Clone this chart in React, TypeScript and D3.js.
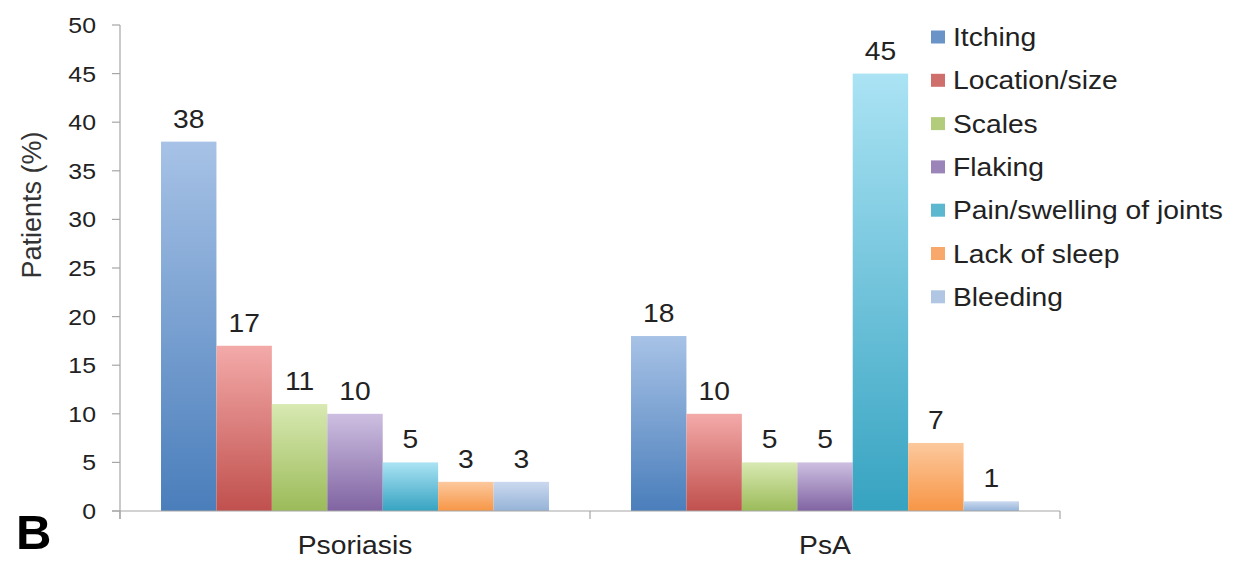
import React from "react";
import * as d3 from "d3";

const groups = ["Psoriasis", "PsA"];
const series = [
  "Itching",
  "Location/size",
  "Scales",
  "Flaking",
  "Pain/swelling of joints",
  "Lack of sleep",
  "Bleeding",
];
const psoriasisValues = [38, 17, 11, 10, 5, 3, 3];
const psaValues = [18, 10, 5, 5, 45, 7, 1];
const yTicks = [0, 5, 10, 15, 20, 25, 30, 35, 40, 45, 50];

const topColors = ["#a7c2e6", "#f3aaa9", "#d8e9b2", "#cdbfe1", "#abe3f4", "#fcc89d", "#cbd9ef"];
const bottomColors = ["#4a7ebb", "#c0504d", "#9bbb59", "#8064a2", "#36a3c1", "#f79646", "#95b3d7"];
const swatchColors = ["#6a94c8", "#cf6f6c", "#b2cc7c", "#9a84b8", "#5bb8cf", "#f8a86a", "#b0c6e2"];

const W = 1235;
const H = 561;
const SX = 1.13;
const FONT = "'Liberation Sans', Arial, Helvetica, sans-serif";

export default function App() {
  const values: Record<string, number[]> = { Psoriasis: psoriasisValues, PsA: psaValues };
  const x0 = d3.scaleBand<string>().domain(groups).range([120, 1060]).padding(0);
  const x1 = d3
    .scaleBand<string>()
    .domain(series)
    .range([0, x0.bandwidth()])
    .paddingInner(0)
    .paddingOuter(0.74);
  const y = d3.scaleLinear().domain([0, 50]).range([511, 25]);
  const axisColor = "#a6a6a6";

  return (
    <svg width={W} height={H} style={{ position: "absolute", left: 0, top: 0, background: "#fff" }}>
      <defs>
        {series.map((s, i) => (
          <linearGradient key={s} id={`g${i}`} x1="0" y1="0" x2="0" y2="1">
            <stop offset="0%" stopColor={topColors[i]} />
            <stop offset="100%" stopColor={bottomColors[i]} />
          </linearGradient>
        ))}
      </defs>

      {/* bars */}
      {groups.map((g) => (
        <g key={g} transform={`translate(${x0(g)},0)`}>
          {series.map((s, i) => {
            const v = values[g][i];
            const bx = x1(s)!;
            const bw = x1.bandwidth();
            return (
              <g key={s}>
                <rect x={bx} y={y(v)} width={bw} height={y(0) - y(v)} fill={`url(#g${i})`} />
                <text
                  transform={`translate(${bx + bw / 2},${y(v) - 14}) scale(${SX},1)`}
                  textAnchor="middle"
                  fontFamily={FONT}
                  fontSize={25}
                  fill="#222"
                >
                  {v}
                </text>
              </g>
            );
          })}
        </g>
      ))}

      {/* y axis */}
      <line x1={120} x2={120} y1={y(50)} y2={519} stroke={axisColor} strokeWidth={1.2} />
      {yTicks.map((t) => (
        <g key={t}>
          <line x1={112} x2={120} y1={y(t)} y2={y(t)} stroke={axisColor} strokeWidth={1.2} />
          <text
            transform={`translate(96,${y(t) + 8}) scale(${SX},1)`}
            textAnchor="end"
            fontFamily={FONT}
            fontSize={22}
            fill="#222"
          >
            {t}
          </text>
        </g>
      ))}

      {/* x axis */}
      <line x1={112} x2={1060} y1={y(0)} y2={y(0)} stroke={axisColor} strokeWidth={1.2} />
      {[120, x0("PsA")!, 1060].map((px, i) => (
        <line key={i} x1={px} x2={px} y1={y(0)} y2={519} stroke={axisColor} strokeWidth={1.2} />
      ))}
      {groups.map((g) => (
        <text
          key={g}
          transform={`translate(${x0(g)! + x0.bandwidth() / 2},554) scale(${SX},1)`}
          textAnchor="middle"
          fontFamily={FONT}
          fontSize={25}
          fill="#222"
        >
          {g}
        </text>
      ))}

      {/* y title */}
      <text
        transform={`translate(41,205) rotate(-90)`}
        textAnchor="middle"
        fontFamily={FONT}
        fontSize={27}
        fill="#333"
      >
        Patients (%)
      </text>

      {/* legend */}
      {series.map((s, i) => {
        const ly = 37 + i * 43.3;
        return (
          <g key={s}>
            <rect x={931} y={ly - 6.5} width={14} height={13} fill={swatchColors[i]} />
            <text
              transform={`translate(953,${ly + 9}) scale(${SX},1)`}
              fontFamily={FONT}
              fontSize={25}
              fill="#222"
            >
              {s}
            </text>
          </g>
        );
      })}

      {/* panel letter */}
      <text x={16} y={549} fontFamily={FONT} fontWeight="bold" fontSize={49} fill="#000">
        B
      </text>
    </svg>
  );
}
